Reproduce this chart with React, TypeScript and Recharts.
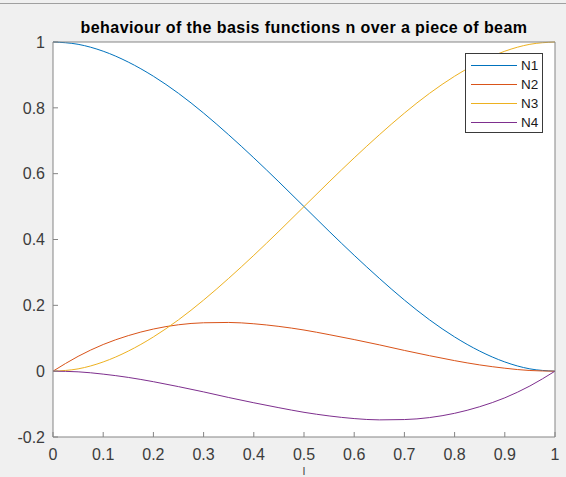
import React from 'react';
import { LineChart, Line, XAxis, YAxis, ReferenceArea } from 'recharts';

// sample positions along the beam element (normalised, 0..1)
const xs = [0, 0.05, 0.1, 0.15, 0.2, 0.25, 0.3, 0.35, 0.4, 0.45, 0.5, 0.55, 0.6, 0.65, 0.7, 0.75, 0.8, 0.85, 0.9, 0.95, 1];

const n1 = [1, 0.993, 0.972, 0.939, 0.896, 0.844, 0.784, 0.718, 0.648, 0.575, 0.5, 0.425, 0.352, 0.282, 0.216, 0.156, 0.104, 0.061, 0.028, 0.007, 0];
const n2 = [0, 0.045, 0.081, 0.108, 0.128, 0.141, 0.147, 0.148, 0.144, 0.136, 0.125, 0.111, 0.096, 0.080, 0.063, 0.047, 0.032, 0.019, 0.009, 0.002, 0];
const n3 = [0, 0.007, 0.028, 0.061, 0.104, 0.156, 0.216, 0.282, 0.352, 0.425, 0.5, 0.575, 0.648, 0.718, 0.784, 0.844, 0.896, 0.939, 0.972, 0.993, 1];
const n4 = [0, -0.002, -0.009, -0.019, -0.032, -0.047, -0.063, -0.080, -0.096, -0.111, -0.125, -0.136, -0.144, -0.148, -0.147, -0.141, -0.128, -0.108, -0.081, -0.045, 0];

const xTicks = [0, 0.1, 0.2, 0.3, 0.4, 0.5, 0.6, 0.7, 0.8, 0.9, 1];
const yTicks = [-0.2, 0, 0.2, 0.4, 0.6, 0.8, 1];

const seriesNames = ['N1', 'N2', 'N3', 'N4'];
const seriesColors = ['#0072BD', '#D95319', '#EDB120', '#7E2F8E'];
const seriesValues = [n1, n2, n3, n4];

const data = xs.map((x, i) => {
  const row: Record<string, number> = { x };
  seriesNames.forEach((name, k) => {
    row[name] = seriesValues[k][i];
  });
  return row;
});

const FONT = 'Arial, "Liberation Sans", Helvetica, sans-serif';
const AXIS_COLOR = '#858585';
const TEXT_COLOR = '#3c3c3c';

const tickStyle = { fontSize: 16, fill: TEXT_COLOR, fontFamily: FONT };

function LegendBox() {
  return (
    <div
      style={{
        position: 'absolute',
        left: 465,
        top: 53,
        width: 78,
        height: 80,
        boxSizing: 'border-box',
        border: '1px solid #3a3a3a',
        background: '#ffffff',
        fontFamily: FONT,
        fontSize: 13.5,
        color: '#1a1a1a',
        paddingTop: 2,
      }}
    >
      {seriesNames.map((name, k) => (
        <div key={name} style={{ display: 'flex', alignItems: 'center', height: 19 }}>
          <div style={{ width: 46, height: 0, borderTop: `1px solid ${seriesColors[k]}`, marginLeft: 5, marginRight: 4 }} />
          <span>{name}</span>
        </div>
      ))}
    </div>
  );
}

export default function App() {
  return (
    <div
      style={{
        position: 'absolute',
        left: 0,
        top: 0,
        width: 566,
        height: 477,
        background: '#f0f0f0',
        overflow: 'hidden',
      }}
    >
      <div style={{ position: 'absolute', left: 0, top: 3, width: 566, height: 1, background: '#a0a0a0' }} />
      <div
        style={{
          position: 'absolute',
          left: 53,
          width: 502,
          top: 19,
          textAlign: 'center',
          fontFamily: FONT,
          fontWeight: 'bold',
          fontSize: 16,
          letterSpacing: 0.43,
          color: '#000000',
          whiteSpace: 'nowrap',
        }}
      >
        behaviour of the basis functions n over a piece of beam
      </div>
      <LineChart
        width={566}
        height={477}
        data={data}
        margin={{ top: 41, right: 10, bottom: 0, left: 0 }}
        style={{ position: 'absolute', left: 0, top: 0 }}
      >
        <XAxis
          xAxisId="bottom"
          dataKey="x"
          type="number"
          domain={[0, 1]}
          ticks={xTicks}
          height={40}
          tickSize={-5}
          tickMargin={17}
          interval={0}
          tick={tickStyle}
          stroke={AXIS_COLOR}
          label={{ value: 'l', position: 'insideBottom', offset: 2.5, fill: TEXT_COLOR, fontSize: 11, fontFamily: FONT }}
        />
        <XAxis
          xAxisId="top"
          orientation="top"
          dataKey="x"
          type="number"
          domain={[0, 1]}
          ticks={xTicks}
          height={1}
          tickSize={-5}
          interval={0}
          tick={false}
          stroke={AXIS_COLOR}
        />
        <YAxis
          yAxisId="left"
          type="number"
          domain={[-0.2, 1]}
          ticks={yTicks}
          width={53}
          tickSize={-5}
          tickMargin={13}
          interval={0}
          tick={tickStyle}
          stroke={AXIS_COLOR}
        />
        <YAxis
          yAxisId="right"
          orientation="right"
          type="number"
          domain={[-0.2, 1]}
          ticks={yTicks}
          width={1}
          tickSize={-5}
          interval={0}
          tick={false}
          stroke={AXIS_COLOR}
        />
        <ReferenceArea
          xAxisId="bottom"
          yAxisId="left"
          x1={0}
          x2={1}
          y1={-0.2}
          y2={1}
          fill="#ffffff"
          fillOpacity={1}
          stroke="none"
          ifOverflow="hidden"
        />
        {seriesNames.map((name, k) => (
          <Line
            key={name}
            xAxisId="bottom"
            yAxisId="left"
            dataKey={name}
            name={name}
            type="monotone"
            stroke={seriesColors[k]}
            strokeWidth={1}
            dot={false}
            activeDot={false}
            isAnimationActive={false}
          />
        ))}
      </LineChart>
      <LegendBox />
    </div>
  );
}
